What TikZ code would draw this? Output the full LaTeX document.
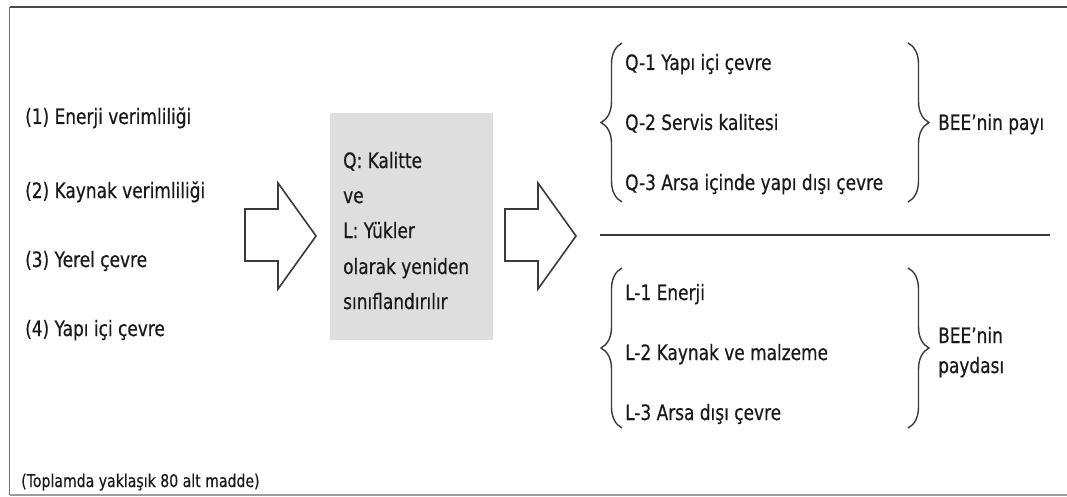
\documentclass[tikz,border=0pt]{standalone}
\usepackage{fontspec}
\setmainfont{DejaVu Sans}[FakeStretch=0.8, FakeBold=0.5]
\usetikzlibrary{decorations.pathreplacing}
\definecolor{ink}{HTML}{1A1A1A}
\definecolor{boxgray}{HTML}{DEDEDE}
\definecolor{framegray}{HTML}{4A4A4A}
\definecolor{arrowgray}{HTML}{3A3A3A}
\begin{document}
\begin{tikzpicture}[x=1pt,y=-1pt,
  lbl/.style={anchor=base west, inner sep=0pt, text=ink,
              font=\fontsize{21.2}{25}\selectfont},
  note/.style={anchor=base west, inner sep=0pt, text=ink,
               font=\fontsize{17.6}{21}\selectfont},
  blockarrow/.style={draw=arrowgray, line width=1.6pt, fill=white, line join=miter},
  curly/.style={draw=arrowgray, line width=1.4pt,
                decorate, decoration={brace, amplitude=21pt}},
  rule/.style={draw=arrowgray, line width=1.5pt}]
\useasboundingbox (0,0) rectangle (1067,497);

% outer frame: top, left and bottom edges only
\coordinate (ftl) at (9.5,7.5);
\coordinate (ftr) at (1067,7.5);
\coordinate (fbl) at (9.5,495);
\coordinate (fbr) at (1067,495);
\draw[framegray, line width=2pt] (ftr) -- (ftl);
\draw[framegray!80, line width=1.6pt] (ftl) -- (fbl);
\draw[framegray!55, line width=2pt] (fbl) -- (fbr);

% original assessment categories
\node[lbl] (c1) at (25,124) {(1) Enerji verimliliği};
\node[lbl] (c2) at (25,198) {(2) Kaynak verimliliği};
\node[lbl] (c3) at (25,267) {(3) Yerel çevre};
\node[lbl] (c4) at (25,336) {(4) Yapı içi çevre};
\node[note] (total) at (21,487) {(Toplamda yaklaşık 80 alt madde)};

% reclassification box
\node[fill=boxgray, inner sep=0pt, minimum width=163pt, minimum height=227pt,
      anchor=north west] (box) at (330,113) {};
\node[lbl] (b1) at (343,168) {Q: Kalitte};
\node[lbl] (b2) at (343,203) {ve};
\node[lbl] (b3) at (343,238) {L: Yükler};
\node[lbl] (b4) at (343,274) {olarak yeniden};
\node[lbl] (b5) at (343,309) {sınıflandırılır};

% block arrows
\draw[blockarrow] (245,209) -- (278,209) -- (278,183) -- (316,236)
  -- (278,289) -- (278,261) -- (245,261) -- cycle;
\draw[blockarrow] (505,209) -- (538,209) -- (538,183) -- (576,236)
  -- (538,289) -- (538,261) -- (505,261) -- cycle;

% Q group
\node[lbl] (q1) at (625,70) {Q-1 Yapı içi çevre};
\node[lbl] (q2) at (625,130) {Q-2 Servis kalitesi};
\node[lbl] (q3) at (625,190) {Q-3 Arsa içinde yapı dışı çevre};
\coordinate (qlt) at (622,43);
\coordinate (qlb) at (622,202);
\coordinate (qrt) at (908,43);
\coordinate (qrb) at (908,202);
\draw[curly] (qlb) -- (qlt);
\draw[curly] (qrt) -- (qrb);
\node[lbl] (qbee) at (938,130) {BEE’nin payı};

% divider
\coordinate (dl) at (600,235);
\coordinate (dr) at (1050,235);
\draw[rule] (dl) -- (dr);

% L group
\node[lbl] (l1) at (625,300) {L-1 Enerji};
\node[lbl] (l2) at (625,360) {L-2 Kaynak ve malzeme};
\node[lbl] (l3) at (625,420) {L-3 Arsa dışı çevre};
\coordinate (llt) at (622,268);
\coordinate (llb) at (622,428);
\coordinate (lrt) at (908,268);
\coordinate (lrb) at (908,428);
\draw[curly] (llb) -- (llt);
\draw[curly] (lrt) -- (lrb);
\node[lbl] (lbee1) at (938,343) {BEE’nin};
\node[lbl] (lbee2) at (938,373) {paydası};
\end{tikzpicture}
\end{document}
